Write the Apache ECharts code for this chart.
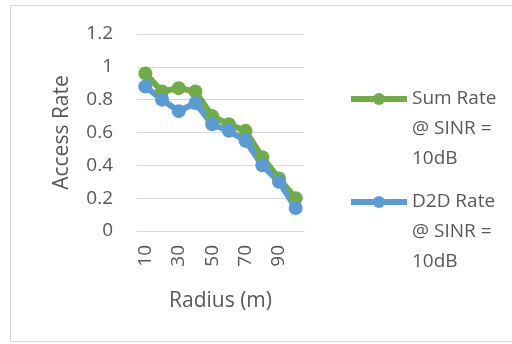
<!DOCTYPE html>
<html>
<head>
<meta charset="utf-8">
<script src="https://cdn.jsdelivr.net/npm/echarts@6/dist/echarts.min.js"></script>
<style>
  html, body { margin: 0; padding: 0; background: #fff; }
  #chart-div { width: 512px; height: 344px; }
</style>
</head>
<body>
<div id="chart-div"></div>
<script>
// säde (m) ja pääsytodennäköisyydet
const radius = ['10', '20', '30', '40', '50', '60', '70', '80', '90', '100']
const sumRate = [0.96, 0.85, 0.87, 0.85, 0.70, 0.65, 0.61, 0.45, 0.32, 0.20]
const d2dRate = [0.88, 0.80, 0.73, 0.78, 0.65, 0.61, 0.55, 0.40, 0.30, 0.14]
const seriesNames = ['Sum Rate @ SINR = 10dB', 'D2D Rate @ SINR = 10dB']
const colors = ['#70ad47', '#5b9bd5']

const font = 'Open Sans'
const textColor = '#595959'

let myChart = echarts.init(document.getElementById('chart-div'))

// legendan teksti kolmelle riville, kaksi tyhjää riviä alkuun jotta ikoni osuu ekaan riviin
function wrapName(name) {
    return '\n\n' + name.replace(' @', '\n@').replace('= ', '=\n')
}

function legendFor(i, top) {
    return {
        data: [seriesNames[i]],
        left: 343,
        top: top,
        itemWidth: 56,
        itemHeight: 15,
        formatter: wrapName,
        lineStyle: { width: 6 },
        textStyle: {
            fontFamily: font, fontSize: 19, color: textColor,
            lineHeight: 30
        }
    }
}

const option = {
    animation: false,
    graphic: [{
        type: 'rect',
        shape: { x: 10.5, y: 5.5, width: 510, height: 336 },
        style: { fill: 'none', stroke: '#d9d9d9', lineWidth: 1 },
        silent: true
    }],
    legend: [legendFor(0, 19), legendFor(1, 122)],
    grid: { left: 137, right: 208, top: 34, bottom: 113 },
    xAxis: {
        type: 'category',
        data: radius,
        name: 'Radius (m)',
        nameLocation: 'middle',
        nameGap: 60,
        nameTextStyle: { fontFamily: font, fontSize: 21, color: textColor },
        axisLine: { lineStyle: { color: '#d9d9d9' } },
        axisTick: { show: false },
        axisLabel: {
            interval: 1, rotate: 90, margin: 14,
            fontFamily: font, fontSize: 19, color: textColor
        }
    },
    yAxis: {
        type: 'value',
        min: 0, max: 1.2, interval: 0.2,
        name: 'Access Rate',
        nameLocation: 'middle',
        nameGap: 64,
        nameTextStyle: { fontFamily: font, fontSize: 21, color: textColor },
        axisLine: { show: false },
        axisTick: { show: false },
        splitLine: { lineStyle: { color: '#d9d9d9' } },
        axisLabel: {
            margin: 24,
            fontFamily: font, fontSize: 19, color: textColor,
            formatter: v => String(Math.round(v * 10) / 10)
        }
    },
    series: [
        {
            name: seriesNames[0], type: 'line', data: sumRate,
            color: colors[0], symbol: 'circle', symbolSize: 14,
            showAllSymbol: true,
            lineStyle: { width: 6 }
        },
        {
            name: seriesNames[1], type: 'line', data: d2dRate,
            color: colors[1], symbol: 'circle', symbolSize: 14,
            showAllSymbol: true,
            lineStyle: { width: 6 }
        }
    ]
}

myChart.setOption(option)
</script>
</body>
</html>
